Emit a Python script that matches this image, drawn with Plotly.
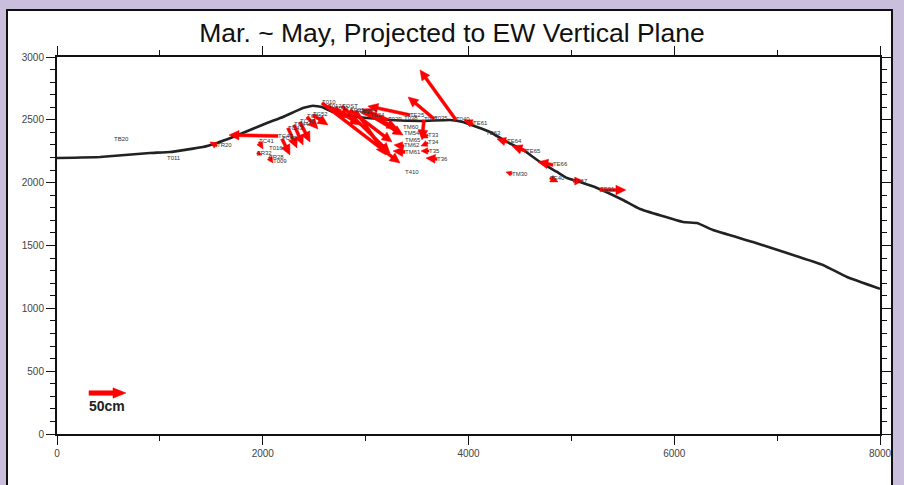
import math
import plotly.graph_objects as go

# ---------------- data ----------------
# topographic profile (distance east [m], elevation [m])
profile_x = [0, 418, 904, 1098, 1419, 1555, 1711, 1876, 2041, 2197, 2391, 2490, 2576, 2683,
             2916, 3237, 3558, 3820, 3946, 4082, 4209, 4374, 4530, 4695, 4860, 4957, 5084,
             5249, 5502, 5667, 6085, 6221, 6376, 6765, 7096, 7446, 7679, 8000]
profile_z = [2196, 2204, 2236, 2244, 2284, 2316, 2363, 2419, 2475, 2523, 2594, 2612, 2602, 2562,
             2523, 2499, 2491, 2499, 2483, 2443, 2403, 2324, 2260, 2165, 2085, 2037, 2005,
             1958, 1862, 1790, 1687, 1679, 1623, 1528, 1440, 1345, 1249, 1155]

# stations: name, projected position [m], displacement east / up [cm]
station_names = ["TB20", "T011", "TR20", "TC47", "TC41", "T016", "TR32", "TR28", "T009",
                 "TC42", "TC43", "TC44", "TC45", "TC51", "TC52",
                 "T010", "T012", "TOST", "T013", "TE21", "TE22", "TE23", "TE24", "TE25",
                 "T029", "T035", "T040", "T038", "T027",
                 "TM60", "TM54", "TM65", "TM62", "TM61",
                 "T33", "T34", "T35", "T36", "T410",
                 "TE61", "TE63", "TE64", "TE65", "TE66", "TM30", "TE40", "TE67", "TE91"]
station_x = [554, 1069, 1555, 2148, 1964, 2061, 1944, 2061, 2100,
             2187, 2245, 2304, 2362, 2430, 2488,
             2576, 2634, 2770, 2702, 2848, 2906, 2965, 3043, 3431,
             3217, 3665, 3878, 3373, 3567,
             3363, 3373, 3383, 3373, 3383,
             3606, 3606, 3616, 3694, 3383,
             4044, 4170, 4374, 4559, 4821, 4423, 4792, 5016, 5278]
station_z = [2340, 2196, 2292, 2371, 2324, 2268, 2236, 2204, 2172,
             2348, 2435, 2459, 2483, 2523, 2539,
             2634, 2610, 2610, 2594, 2578, 2570, 2562, 2538, 2538,
             2499, 2507, 2499, 2507, 2499,
             2443, 2395, 2332, 2292, 2244,
             2379, 2316, 2252, 2188, 2077,
             2467, 2395, 2324, 2252, 2141, 2069, 2037, 2013, 1942]
disp_e = [0, 0, -9.5, -66.2, 5.4, 0, 6.8, 5.4, 0,
          10.8, 12.2, 12.2, 13.5, 14.9, 20.3,
          105.4, 29.7, 64.9, 33.8, 56.8, 40.5, 47.3, 44.6, -56.8,
          -35.1, -35.1, -48.6, 0, -2.7,
          0, 0, 0, -13.5, -16.2,
          -8.1, -9.5, -10.8, -14.9, 0,
          -12.2, 0, -13.5, -18.9, -20.3, -8.1, 10.8, 13.5, 35.1]
disp_u = [0, 0, 5.4, 1.4, -9.5, 0, -2.7, -8.1, 0,
          -21.6, -27.0, -27.0, -27.0, -16.2, -13.5,
          -81.1, -16.2, -63.5, -23.0, -43.2, -59.5, -21.6, -27.0, 12.2,
          14.9, 29.7, 67.6, 0, -27.0,
          0, 0, 0, 1.4, 1.4,
          -4.1, -4.1, 0, 1.4, 0,
          5.4, 0, 4.1, 6.8, 4.1, 2.7, -5.4, 0, 0]

scale_cm = 50
scale_label = "50cm"
title_text = "Mar. ~ May, Projected to EW Vertical Plane"
x_ticks = [0, 2000, 4000, 6000, 8000]
y_ticks = [0, 500, 1000, 1500, 2000, 2500, 3000]

# ---------------- geometry helpers ----------------
W, H = 904, 485
ML, MR, MT, MB = 57, 24, 57, 51
PW, PH = W - ML - MR, H - MT - MB
XR, YR = (0, 8000), (0, 3000)
PX_PER_CM = 37 / 50.0


def to_px(x, y):
    return (x - XR[0]) / (XR[1] - XR[0]) * PW, (y - YR[0]) / (YR[1] - YR[0]) * PH


def to_data(px, py):
    return XR[0] + px / PW * (XR[1] - XR[0]), YR[0] + py / PH * (YR[1] - YR[0])


def arrow_poly(x, y, de, du, shaft=1.5, head_len=10.0, head_w=4.8):
    x0, y0 = to_px(x, y)
    dx, dy = de * PX_PER_CM, du * PX_PER_CM
    L = math.hypot(dx, dy)
    if L < 0.5:
        return None
    ux, uy = dx / L, dy / L
    nx, ny = -uy, ux
    s = min(1.0, L / (head_len * 1.2))
    hl, hw, sw = head_len * s, head_w * s, shaft * max(s, 0.6)
    tx, ty = x0 + dx, y0 + dy
    bx, by = tx - ux * hl, ty - uy * hl
    pts = [(x0 + nx * sw, y0 + ny * sw), (bx + nx * sw, by + ny * sw),
           (bx + nx * hw, by + ny * hw), (tx, ty),
           (bx - nx * hw, by - ny * hw), (bx - nx * sw, by - ny * sw),
           (x0 - nx * sw, y0 - ny * sw)]
    return [to_data(px, py) for px, py in pts]


ax_x, ax_y = [], []
for x, z, de, du in zip(station_x, station_z, disp_e, disp_u):
    poly = arrow_poly(x, z, de, du)
    if poly is None:
        continue
    for px, py in poly + [poly[0]]:
        ax_x.append(px)
        ax_y.append(py)
    ax_x.append(None)
    ax_y.append(None)

fig = go.Figure()

# profile
fig.add_trace(go.Scatter(x=profile_x, y=profile_z, mode="lines",
                         line=dict(color="#222222", width=2.6, shape="spline", smoothing=0.3),
                         hoverinfo="skip"))
# displacement arrows
fig.add_trace(go.Scatter(x=ax_x, y=ax_y, mode="lines", fill="toself", fillcolor="#ff0000",
                         line=dict(color="#ff0000", width=0.5), hoverinfo="skip"))
# station labels
fig.add_trace(go.Scatter(x=station_x, y=station_z, mode="text", text=station_names,
                         textposition="middle right",
                         textfont=dict(family="Liberation Sans, Arial", size=6, color="#333333"),
                         hoverinfo="skip"))

# scale arrow (legend)
sx, sz = 311, 326
poly = arrow_poly(sx, sz, scale_cm, 0, shaft=2.3, head_len=13, head_w=5.2)
fig.add_trace(go.Scatter(x=[p[0] for p in poly] + [poly[0][0]], y=[p[1] for p in poly] + [poly[0][1]],
                         mode="lines", fill="toself", fillcolor="#ff0000",
                         line=dict(color="#ff0000", width=0.5), hoverinfo="skip"))
fig.add_annotation(x=sx - 20, y=sz - 105, xref="x", yref="y", text="<b>" + scale_label + "</b>",
                   showarrow=False, xanchor="left", yanchor="middle",
                   font=dict(family="Liberation Sans, Arial", size=14, color="#222222"))

# white framed panel on lavender background
fig.add_shape(type="rect", xref="paper", yref="paper",
              x0=(7 - ML) / PW, x1=(892 - ML) / PW,
              y0=(H - MB - 495) / PH, y1=(H - MB - 10) / PH,
              fillcolor="white", line=dict(color="#111111", width=2), layer="below")

fig.update_layout(
    width=W, height=H,
    margin=dict(l=ML, r=MR, t=MT, b=MB, pad=0),
    paper_bgcolor="#c9bfdd", plot_bgcolor="white",
    showlegend=False, hovermode=False,
    title=dict(text=title_text, x=0.5, xref="container", xanchor="center",
               y=1 - 33 / H, yref="container", yanchor="middle",
               font=dict(family="Liberation Sans, Arial", size=26.5, color="#111111")),
)
axis_common = dict(showgrid=False, zeroline=False, showline=True, linecolor="#111111", linewidth=2,
                   ticks="outside", ticklen=9, tickwidth=1, tickcolor="#111111", mirror="ticks",
                   tickfont=dict(family="Liberation Sans, Arial", size=10, color="#444444"))
fig.update_xaxes(range=list(XR), tickvals=x_ticks, **axis_common,
                 minor=dict(dtick=1000, ticklen=5, tickcolor="#111111", ticks="outside"))
fig.update_yaxes(range=list(YR), tickvals=y_ticks, **axis_common,
                 minor=dict(dtick=100, ticklen=5, tickcolor="#111111", ticks="outside"))

fig.write_html("out.html", config={"displayModeBar": False},
               post_script="document.body.style.margin='0';document.body.style.overflow='hidden';")
